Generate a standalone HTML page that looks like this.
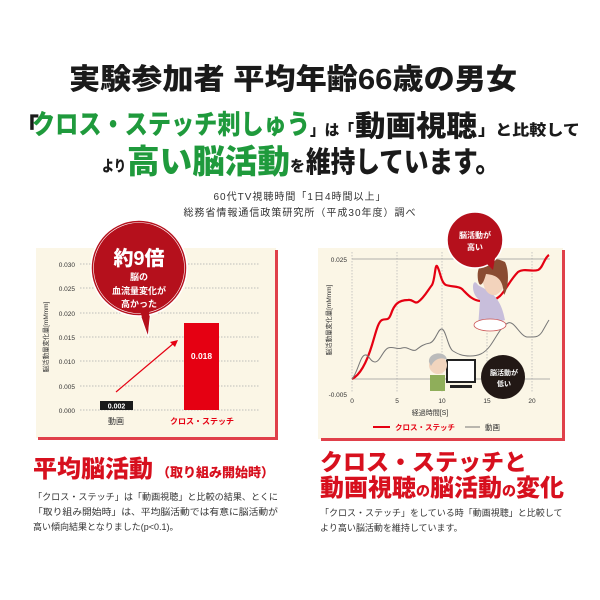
<!DOCTYPE html>
<html><head><meta charset="utf-8"><style>
body{margin:0;background:#fff;}
svg{display:block;font-family:"Liberation Sans","Noto Sans CJK JP",sans-serif;}
</style></head><body>
<svg width="600" height="600" viewBox="0 0 600 600" xmlns="http://www.w3.org/2000/svg">
<rect width="600" height="600" fill="#fff"/>
<!-- Titles -->
<text x="293" y="89" font-size="29" font-weight="900" text-anchor="middle" fill="#1a1a1a" textLength="448" lengthAdjust="spacingAndGlyphs">実験参加者 平均年齢66歳の男女</text>
<g font-weight="900" fill="#1a1a1a">
<text x="15" y="135" font-size="24">「</text>
<text x="32" y="134" font-size="27" fill="#1f9a3c" textLength="278" lengthAdjust="spacingAndGlyphs">クロス・ステッチ刺しゅう</text>
<text x="310" y="135" font-size="15" textLength="44" lengthAdjust="spacingAndGlyphs">」は「</text>
<text x="355" y="136" font-size="29" textLength="122" lengthAdjust="spacingAndGlyphs">動画視聴</text>
<text x="478" y="135" font-size="15" textLength="102" lengthAdjust="spacingAndGlyphs">」と比較して</text>
<text x="102" y="171" font-size="15" textLength="24" lengthAdjust="spacingAndGlyphs">より</text>
<text x="127" y="173" font-size="33" fill="#1f9a3c" textLength="163" lengthAdjust="spacingAndGlyphs">高い脳活動</text>
<text x="290" y="171" font-size="15">を</text>
<text x="306" y="172" font-size="29" textLength="194" lengthAdjust="spacingAndGlyphs">維持しています。</text>
</g>
<text x="300" y="200" font-size="10" text-anchor="middle" fill="#333" letter-spacing="1">60代TV視聴時間「1日4時間以上」</text>
<text x="300" y="216" font-size="10" text-anchor="middle" fill="#333" letter-spacing="1">総務省情報通信政策研究所（平成30年度）調べ</text>

<!-- Left panel -->
<rect x="36" y="248" width="240" height="190" fill="#fbf6e6"/>
<rect x="275" y="250" width="3" height="190" fill="#e0404a"/>
<rect x="38" y="437" width="240" height="3" fill="#e0404a"/>
<g stroke="#aaa" stroke-width="0.8" stroke-dasharray="1.5,1.5">
<line x1="80" y1="264" x2="260" y2="264"/><line x1="80" y1="288" x2="260" y2="288"/>
<line x1="80" y1="313" x2="260" y2="313"/><line x1="80" y1="337" x2="260" y2="337"/>
<line x1="80" y1="361" x2="260" y2="361"/><line x1="80" y1="386" x2="260" y2="386"/>
<line x1="80" y1="410" x2="260" y2="410"/></g>
<g font-size="6.5" fill="#333" text-anchor="end">
<text x="75" y="267">0.030</text><text x="75" y="291">0.025</text><text x="75" y="316">0.020</text>
<text x="75" y="340">0.015</text><text x="75" y="364">0.010</text><text x="75" y="389">0.005</text><text x="75" y="413">0.000</text></g>
<text transform="translate(48,337) rotate(-90)" font-size="6.5" fill="#333" text-anchor="middle">脳活動量変化量[mMmm]</text>
<rect x="100" y="401" width="33" height="9" fill="#1a1a1a"/>
<text x="116.5" y="408.5" font-size="7" fill="#fff" font-weight="bold" text-anchor="middle">0.002</text>
<rect x="184" y="323" width="35" height="87" fill="#e50012"/>
<text x="201.5" y="359" font-size="8.5" fill="#fff" font-weight="bold" text-anchor="middle">0.018</text>
<text x="116" y="424" font-size="8" fill="#333" text-anchor="middle">動画</text>
<text x="202" y="424" font-size="8" fill="#e50012" font-weight="bold" text-anchor="middle">クロス・ステッチ</text>
<line x1="116" y1="392" x2="174" y2="343" stroke="#e50012" stroke-width="1.2"/>
<polygon points="178,340 170,342 175,347" fill="#e50012"/>
<!-- bubble -->
<polygon points="135,300 152,300 148,337" fill="#b5101c" stroke="#fff" stroke-width="1"/>
<circle cx="139" cy="268" r="48" fill="#b5101c" stroke="#fff" stroke-width="1.5"/>
<circle cx="139" cy="268" r="45.5" fill="none" stroke="#fff" stroke-width="0.6"/>
<polygon points="136,300 150,300 148,334" fill="#b5101c"/>
<text x="139" y="265" font-size="20" font-weight="900" fill="#fff" text-anchor="middle">約9倍</text>
<text x="139" y="280" font-size="9" font-weight="bold" fill="#fff" text-anchor="middle">脳の</text>
<text x="139" y="294" font-size="9" font-weight="bold" fill="#fff" text-anchor="middle">血流量変化が</text>
<text x="139" y="307" font-size="9" font-weight="bold" fill="#fff" text-anchor="middle">高かった</text>

<!-- Right panel -->
<rect x="318" y="248" width="245" height="191" fill="#fbf6e6"/>
<rect x="562" y="250" width="3" height="191" fill="#e0404a"/>
<rect x="321" y="438" width="244" height="3" fill="#e0404a"/>
<g stroke="#bbb" stroke-width="0.8" stroke-dasharray="1.5,1.5">
<line x1="352" y1="252" x2="352" y2="392"/><line x1="397" y1="252" x2="397" y2="392"/>
<line x1="442" y1="252" x2="442" y2="392"/><line x1="487" y1="252" x2="487" y2="392"/>
<line x1="532" y1="252" x2="532" y2="392"/></g>
<line x1="352" y1="259" x2="550" y2="259" stroke="#999" stroke-width="0.8"/>
<line x1="352" y1="379" x2="550" y2="379" stroke="#999" stroke-width="0.8"/>
<g font-size="6.5" fill="#333">
<text x="347" y="262" text-anchor="end">0.025</text><text x="347" y="397" text-anchor="end">-0.005</text>
<text x="352" y="403" text-anchor="middle">0</text><text x="397" y="403" text-anchor="middle">5</text>
<text x="442" y="403" text-anchor="middle">10</text><text x="487" y="403" text-anchor="middle">15</text><text x="532" y="403" text-anchor="middle">20</text>
<text x="430" y="415" text-anchor="middle" font-size="7">経過時間[S]</text></g>
<text transform="translate(331,320) rotate(-90)" font-size="6.5" fill="#333" text-anchor="middle">脳活動量変化量[mMmm]</text>
<path d="M352,379 C358,376 365,368 372,345 C376,332 378,322 382,320 C386,318 388,322 391,314 C394,305 398,300 408,300 C413,299 414,304 418,302 C424,298 428,290 432,285 C435,280 435,264 437,266 C440,270 441,283 446,285 C452,287 460,286 463,290 C468,295 472,300 480,301 C487,302 493,302 500,296 C506,290 510,280 518,272 C524,268 532,272 538,270 C543,268 544,258 549,255" fill="none" stroke="#e50012" stroke-width="2.2"/>
<path d="M352,379 C358,372 360,356 365,355 C369,354 370,362 375,362 C380,362 383,350 388,348 C393,346 397,350 402,348 C408,346 411,352 416,350 C421,346 424,344 430,343 C436,341 438,328 442,329 C446,330 448,348 453,351 C458,354 462,356 470,356 C478,356 484,354 490,346 C496,338 501,326 508,323 C514,320 520,336 527,337 C534,337 538,338 542,332 C545,327 547,323 549,320" fill="none" stroke="#777" stroke-width="1"/>
<line x1="373" y1="427" x2="390" y2="427" stroke="#e50012" stroke-width="2"/>
<text x="395" y="430" font-size="7.5" fill="#e50012" font-weight="bold">クロス・ステッチ</text>
<line x1="465" y1="427" x2="480" y2="427" stroke="#777" stroke-width="1"/>
<text x="485" y="430" font-size="7.5" fill="#333">動画</text>
<!-- woman illustration -->
<path d="M480,300 C470,295 472,275 478,285 C485,290 500,292 505,320 L478,328 Z" fill="#c8bedb"/>
<path d="M482,275 C480,260 500,258 505,270 C507,280 505,290 496,295 C488,296 483,290 482,275Z" fill="#f3d3bc"/>
<path d="M478,280 C475,260 492,255 505,262 C510,272 508,290 504,295 C503,280 498,275 486,274 C484,282 480,290 478,280Z" fill="#8a4c32"/>
<ellipse cx="490" cy="325" rx="16" ry="6" fill="#fff" stroke="#c55" stroke-width="0.8"/>
<!-- man + computer -->
<rect x="447" y="360" width="28" height="22" fill="#fff" stroke="#222" stroke-width="2"/>
<rect x="450" y="385" width="22" height="3" fill="#222"/>
<circle cx="438" cy="365" r="9" fill="#f2d5be"/>
<path d="M429,362 C428,352 446,350 447,360 C444,358 436,356 431,366Z" fill="#bbb"/>
<rect x="430" y="375" width="15" height="16" fill="#8fae5a"/>
<!-- bubbles right -->
<circle cx="475" cy="240" r="28" fill="#b5101c" stroke="#fff" stroke-width="1.5"/>
<polygon points="485,262 495,258 493,270" fill="#b5101c"/>
<text x="475" y="238" font-size="8" font-weight="bold" fill="#fff" text-anchor="middle">脳活動が</text>
<text x="475" y="250" font-size="8" font-weight="bold" fill="#fff" text-anchor="middle">高い</text>
<circle cx="503" cy="377" r="22" fill="#221815"/>
<polygon points="484,380 482,382 486,385" fill="#221815"/>
<text x="504" y="375" font-size="7" font-weight="bold" fill="#fff" text-anchor="middle">脳活動が</text>
<text x="504" y="386" font-size="7" font-weight="bold" fill="#fff" text-anchor="middle">低い</text>

<!-- Bottom texts -->
<text x="33" y="477" fill="#d7101e" font-weight="900"><tspan font-size="24">平均脳活動</tspan><tspan font-size="13" dx="4">（取り組み開始時）</tspan></text>
<g font-size="9" fill="#333">
<text x="33" y="500" textLength="245" lengthAdjust="spacingAndGlyphs">「クロス・ステッチ」は「動画視聴」と比較の結果、とくに</text>
<text x="33" y="515" textLength="245" lengthAdjust="spacingAndGlyphs">「取り組み開始時」は、平均脳活動では有意に脳活動が</text>
<text x="33" y="530">高い傾向結果となりました(p&lt;0.1)。</text>
<text x="320" y="516">「クロス・ステッチ」をしている時「動画視聴」と比較して</text>
<text x="320" y="531">より高い脳活動を維持しています。</text></g>
<text x="320" y="470" font-size="23" font-weight="900" fill="#d7101e">クロス・ステッチと</text>
<text x="320" y="496" font-weight="900" fill="#d7101e"><tspan font-size="24">動画視聴</tspan><tspan font-size="14">の</tspan><tspan font-size="24">脳活動</tspan><tspan font-size="14">の</tspan><tspan font-size="24">変化</tspan></text>
</svg>
</body></html>
